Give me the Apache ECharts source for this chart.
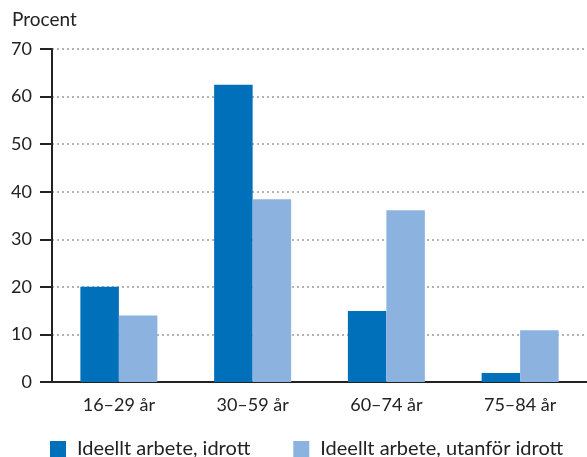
<!DOCTYPE html>
<html>
<head>
<meta charset="utf-8">
<script src="https://cdn.jsdelivr.net/npm/echarts@6/dist/echarts.min.js"></script>
<style>
  html, body { margin: 0; padding: 0; background: #fff; }
  #chart { width: 587px; height: 457px; }
</style>
</head>
<body>
<div id="chart"></div>
<script>
// data
const categories = ["16–29 år", "30–59 år", "60–74 år", "75–84 år"];
const seriesNames = ["Ideellt arbete, idrott", "Ideellt arbete, utanför idrott"];
const idrott = [20.0, 62.5, 14.9, 1.9];
const utanfor = [14.0, 38.4, 36.1, 10.9];
const yTicks = [0, 10, 20, 30, 40, 50, 60, 70];

const font = "Lato, 'Open Sans', sans-serif";
const textColor = "#222";

const chart = echarts.init(document.getElementById("chart"), null, { renderer: "canvas" });

chart.setOption({
  animation: false,
  title: {
    text: "Procent",
    left: 7,
    top: 5,
    textStyle: { fontFamily: font, fontSize: 19, fontWeight: "normal", color: textColor },
  },
  grid: {
    left: 52,
    right: 0,
    top: 49,
    bottom: 75,
    containLabel: false,
  },
  legend: {
    left: 45,
    top: 434,
    icon: "rect",
    itemWidth: 16,
    itemHeight: 16,
    itemGap: 43,
    data: seriesNames,
    textStyle: { fontFamily: font, fontSize: 20, color: textColor, padding: [0, 0, 0, 6] },
  },
  xAxis: {
    type: "category",
    data: categories,
    axisLine: { lineStyle: { color: "#222", width: 2 } },
    axisTick: { show: false },
    axisLabel: { fontFamily: font, fontSize: 18, color: textColor, margin: 14 },
  },
  yAxis: {
    type: "value",
    min: yTicks[0],
    max: yTicks[yTicks.length - 1],
    interval: 10,
    axisLine: { show: true, lineStyle: { color: "#222", width: 2 } },
    axisTick: { show: true, length: 12, lineStyle: { color: "#222", width: 2 } },
    axisLabel: { fontFamily: font, fontSize: 18, color: textColor, margin: 20 },
    splitLine: { show: true, lineStyle: { color: "#9a9a9a", type: [2, 3], width: 1.5 } },
  },
  series: [
    {
      name: seriesNames[0],
      type: "bar",
      data: idrott,
      barWidth: 38.5,
      barGap: 0,
      itemStyle: { color: "#0070ba" },
    },
    {
      name: seriesNames[1],
      type: "bar",
      data: utanfor,
      barWidth: 38.5,
      itemStyle: { color: "#8cb2df" },
    },
  ],
});
</script>
</body>
</html>
